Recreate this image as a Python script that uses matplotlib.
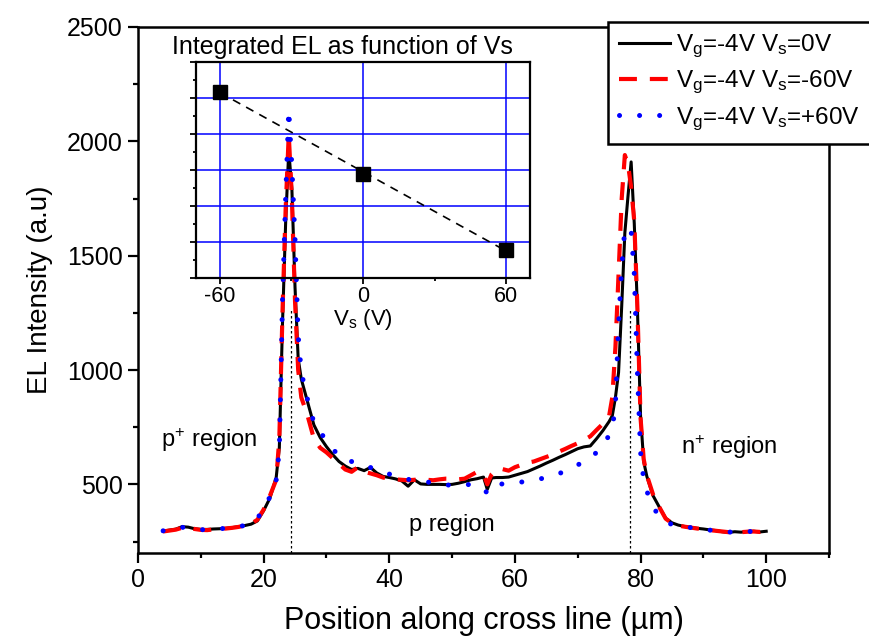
import numpy as np
import matplotlib
matplotlib.use('Agg')
import matplotlib.pyplot as plt
from matplotlib.ticker import MultipleLocator

plt.rcParams['font.family'] = ['Liberation Sans', 'DejaVu Sans']
plt.rcParams['mathtext.fontset'] = 'custom'
plt.rcParams['mathtext.rm'] = 'Liberation Sans'
plt.rcParams['mathtext.default'] = 'rm'
plt.rcParams['axes.unicode_minus'] = False

# Position along cross line (um), shared by the three profiles
pos = [4, 5, 6, 7, 8, 9, 10, 11, 12, 13, 14, 15, 16, 17, 18, 19, 20, 21, 22,
       22.5, 23, 23.5, 24, 24.5, 25, 25.5, 26,
       27, 28, 29, 30, 31, 32, 33, 34, 35, 36, 37, 38, 39, 40, 41, 42, 43, 44,
       45, 46, 47, 48, 49, 50, 51, 52, 53, 54, 55, 55.6, 56.3,
       57, 58, 59, 60, 61, 62, 63, 64, 65, 66, 67, 68, 69, 70, 71, 72, 73, 74, 75,
       75.5, 76, 76.5, 77, 77.5, 78, 78.5, 79, 79.5, 80, 80.5, 81,
       82, 83, 84, 85, 86, 87, 88, 89, 90, 91, 92, 93, 94, 95, 96, 97, 98, 99, 100]

# Vg=-4V Vs=0V
el_vs0 = [296, 300, 304, 315, 313, 306, 303, 303, 305, 306, 308, 311, 315, 320, 326, 340, 385, 440, 530,
          660, 1200, 1640, 1960, 1790, 1360, 1050, 960,
          860, 760, 705, 665, 630, 600, 580, 565, 570, 560, 574, 550, 535, 530, 524, 515, 492, 520,
          502, 500, 500, 500, 499, 500, 505, 512, 520, 525, 532, 478, 528,
          530, 530, 532, 540, 548, 556, 568, 580, 593, 605, 618, 630, 643, 656, 664, 668, 700, 735, 775,
          800, 880, 990, 1280, 1600, 1760, 1910, 1640, 1270, 800, 600, 535,
          450, 400, 352, 332, 322, 316, 312, 308, 305, 301, 298, 293, 290, 293, 291, 294, 295, 292, 295]

# Vg=-4V Vs=-60V
el_vsm60 = [294, 298, 302, 310, 311, 305, 301, 300, 303, 305, 307, 310, 314, 320, 328, 345, 390, 450, 520,
            700, 1250, 1700, 2030, 1750, 1300, 1000, 880,
            800, 700, 660, 640, 615, 590, 565, 555, 575, 555, 548, 540, 530, 525, 522, 520, 518, 520,
            522, 520, 518, 522, 525, 525, 522, 525, 540, 555, 545, 500, 545,
            565, 567, 560, 575, 585, 595, 600, 610, 620, 630, 643, 655, 668, 680, 695, 710, 738, 765, 800,
            880, 1100, 1420, 1750, 1940, 1900, 1800, 1650, 1270, 790, 610, 540,
            455, 400, 350, 330, 320, 315, 311, 307, 304, 300, 297, 294, 291, 292, 291, 293, 294, 292, 296]

# Vg=-4V Vs=+60V
el_vsp60 = [297, 300, 303, 312, 312, 305, 302, 302, 304, 306, 308, 310, 314, 321, 330, 350, 395, 445, 520,
            650, 1300, 1750, 2140, 1890, 1570, 1150, 990,
            870, 770, 730, 690, 655, 625, 605, 600, 590, 580, 574, 560, 553, 545, 540, 532, 522, 518,
            512, 510, 508, 500, 498, 496, 497, 498, 500, 495, 480, 462, 490,
            498, 502, 505, 508, 510, 515, 520, 524, 530, 538, 546, 560, 572, 585, 600, 615, 640, 670, 715,
            740, 850, 1200, 1450, 1620, 1615, 1610, 1420, 990, 640, 520, 470,
            400, 360, 335, 325, 318, 314, 311, 307, 304, 300, 297, 294, 291, 293, 292, 294, 294, 292, 295]

# Inset: integrated EL (arbitrary units) vs source voltage
vs = [-60, 0, 60]
el_int = [5.18, 2.89, 0.78]

# Junction positions
junctions = [24.4, 78.3]

fig = plt.figure(figsize=(8.7, 6.41), dpi=100)
ax = fig.add_axes([0.1586, 0.1373, 0.7943, 0.8206])

l0, = ax.plot(pos, el_vs0, color='black', lw=2.2, zorder=3)
l1, = ax.plot(pos, el_vsm60, color='red', lw=3, ls=(0, (4.3, 3.1)), zorder=4)
l2, = ax.plot(pos, el_vsp60, color='blue', lw=3.6, ls=(0, (0.01, 4.0)),
              dash_capstyle='round', zorder=5)

for xj in junctions:
    ax.plot([xj, xj], [200, 1270], color='black', lw=0.9, ls=(0, (2, 2)), zorder=2)

ax.set_xlim(0, 110)
ax.set_ylim(200, 2500)
ax.xaxis.set_major_locator(MultipleLocator(20))
ax.xaxis.set_minor_locator(MultipleLocator(10))
ax.yaxis.set_major_locator(MultipleLocator(500))
ax.yaxis.set_minor_locator(MultipleLocator(250))
ax.set_xticks([0, 20, 40, 60, 80, 100])
ax.tick_params(which='both', direction='out', width=1.6, labelsize=18, top=False, right=False)
ax.tick_params(which='major', length=7, pad=4)
ax.tick_params(which='minor', length=3.5)
for s in ax.spines.values():
    s.set_linewidth(1.8)

ax.set_xlabel('Position along cross line (\u00b5m)', fontsize=22, labelpad=10)
ax.set_ylabel('EL Intensity (a.u)', fontsize=20, labelpad=10)

ax.text(3.7, 662, r'p$^{+}$ region', fontsize=17, va='baseline')
ax.text(43.1, 296, 'p region', fontsize=17, va='baseline')
ax.text(86.5, 631, r'n$^{+}$ region', fontsize=17, va='baseline')

leg = fig.legend([l0, l1, l2],
                 [r'V$_{g}$=-4V V$_{s}$=0V', r'V$_{g}$=-4V V$_{s}$=-60V', r'V$_{g}$=-4V V$_{s}$=+60V'],
                 loc='upper left', bbox_to_anchor=(608 / 870, 1 - 22 / 641),
                 fontsize=17.5, frameon=True, fancybox=False, framealpha=1,
                 edgecolor='black', handlelength=2.1, handletextpad=0.25,
                 labelspacing=0.36, borderpad=0.45, borderaxespad=0)
leg.get_frame().set_linewidth(1.8)
leg.set_zorder(10)

# inset
ins = fig.add_axes([0.2253, 0.5663, 0.3839, 0.337])
ins.patch.set_alpha(0)
ins.plot(vs, el_int, 's', color='black', ms=10, zorder=4)
fit = np.polyfit(vs, el_int, 1)
ins.plot(vs, np.polyval(fit, vs), color='black', lw=1.2, ls=(0, (5, 4)), zorder=3)
ins.set_xlim(-70, 70)
ins.set_ylim(0, 6)
ins.xaxis.set_major_locator(MultipleLocator(60))
ins.xaxis.set_minor_locator(MultipleLocator(30))
ins.yaxis.set_major_locator(MultipleLocator(1))
ins.yaxis.set_minor_locator(MultipleLocator(0.5))
ins.grid(True, which='major', color='blue', lw=1.1)
ins.tick_params(which='both', direction='out', width=1.3, labelsize=15.5,
                top=False, right=False, labelleft=False)
ins.tick_params(which='major', length=4, pad=2)
ins.tick_params(which='minor', length=2.5)
for s in ins.spines.values():
    s.set_linewidth(1.6)
ins.set_xlabel(r'V$_{s}$ (V)', fontsize=16, labelpad=0)
ins.text(0.4386, 1.069, 'Integrated EL as function of Vs', transform=ins.transAxes,
         ha='center', va='center', fontsize=18)

fig.savefig('out.png', dpi=100)
